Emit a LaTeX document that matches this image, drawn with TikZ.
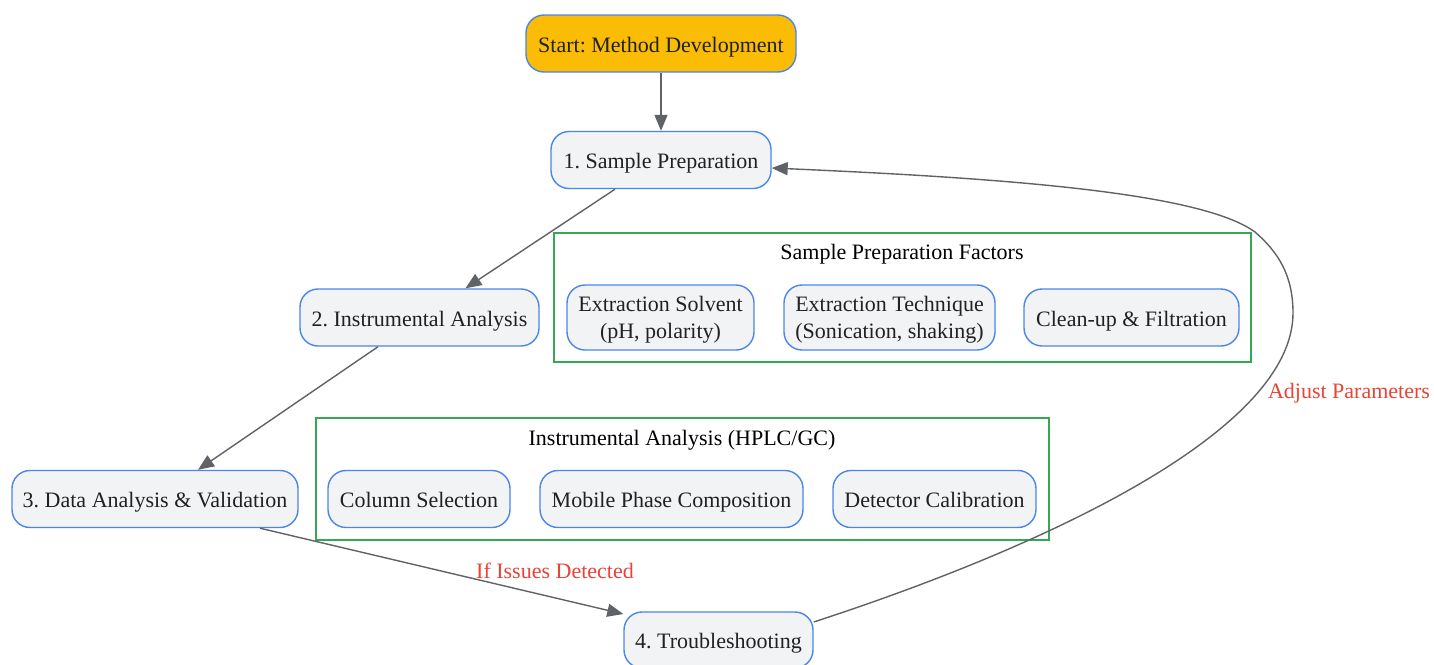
\documentclass[tikz,border=0pt]{standalone}
\usepackage{fontspec}
\setmainfont{Liberation Serif}
\usetikzlibrary{arrows.meta}
\frenchspacing
\definecolor{nodefill}{HTML}{F1F3F5}
\definecolor{nodeline}{HTML}{4A86E8}
\definecolor{startfill}{HTML}{FBBC05}
\definecolor{edgecol}{HTML}{5F6368}
\definecolor{clustercol}{HTML}{34A853}
\definecolor{labelcol}{HTML}{EA4335}
\definecolor{textcol}{HTML}{202124}
\tikzset{
  box/.style={draw=nodeline, fill=nodefill, line width=1.4pt, rounded corners=18pt,
    inner sep=0pt, minimum height=57pt, text=textcol, align=center,
    text height=21pt, text depth=4pt,
    font=\fontsize{22}{27}\selectfont\frenchspacing},
  twoline/.style={box, minimum height=65pt, text height=46pt, text depth=4pt},
  startbox/.style={box, fill=startfill},
  cluster/.style={draw=clustercol, line width=1.4pt},
  ctitle/.style={text=black, font=\fontsize{22}{27}\selectfont\frenchspacing},
  conn/.style={draw=edgecol, line width=1.4pt, -{Triangle[length=16pt,width=13pt]}},
  elabel/.style={text=labelcol, font=\fontsize{22}{27}\selectfont\frenchspacing}
}
\begin{document}
\begin{tikzpicture}[x=1pt,y=-1pt]
\useasboundingbox (0,0) rectangle (1434,664);
\clip (0,0) rectangle (1434,664);
\fill[white] (0,0) rectangle (1434,664);

% clusters
\draw[cluster] (554,233) rectangle (1251,362);
\node[ctitle] (t1) at (902,254) {Sample Preparation Factors};
\draw[cluster] (316,418) rectangle (1049,540);
\node[ctitle] (t2) at (682,440) {Instrumental Analysis (HPLC/GC)};

% main nodes
\node[startbox, minimum width=270pt] (s) at (661,43.5) {Start: Method Development};
\node[box, minimum width=220pt] (n1) at (661,160) {1. Sample Preparation};
\node[box, minimum width=239pt] (n2) at (419.5,317.5) {2. Instrumental Analysis};
\node[box, minimum width=286pt] (n3) at (155,499) {3. Data Analysis \& Validation};
\node[box, minimum width=189pt, minimum height=56pt] (n4) at (718.5,640) {4. Troubleshooting};

% factor nodes
\node[twoline, minimum width=187pt] (f1) at (660.5,317.5) {Extraction Solvent\\(pH, polarity)};
\node[twoline, minimum width=211pt] (f2) at (889.5,317.5) {Extraction Technique\\(Sonication, shaking)};
\node[box, minimum width=215pt] (f3) at (1131.5,317.5) {Clean-up \& Filtration};
\node[box, minimum width=182pt] (i1) at (419,499) {Column Selection};
\node[box, minimum width=263pt] (i2) at (671.5,499) {Mobile Phase Composition};
\node[box, minimum width=203pt] (i3) at (934.5,499) {Detector Calibration};

% connectors
\draw[conn] (s) -- (n1);
\draw[conn] ([xshift=-46pt]n1.south) -- ([xshift=46pt]n2.north);
\draw[conn] ([xshift=-41.5pt]n2.south) -- ([xshift=43pt]n3.north);
\draw[conn] ([xshift=105pt]n3.south) -- ([yshift=26pt]n4.west);
\node[elabel] (l1) at (555,571) {If Issues Detected};

\coordinate (c1) at (1293,313);
\coordinate (c2) at (1255,232);
\draw[conn] ([yshift=18pt]n4.east) .. controls (1050,545) and (1293,430) .. (c1)
  .. controls (1293,275) and (1278,252) .. (c2)
  .. controls (1200,192) and (1000,178) .. ([yshift=-8pt]n1.east);
\node[elabel] (l2) at (1349,393) {Adjust Parameters};
\end{tikzpicture}
\end{document}
